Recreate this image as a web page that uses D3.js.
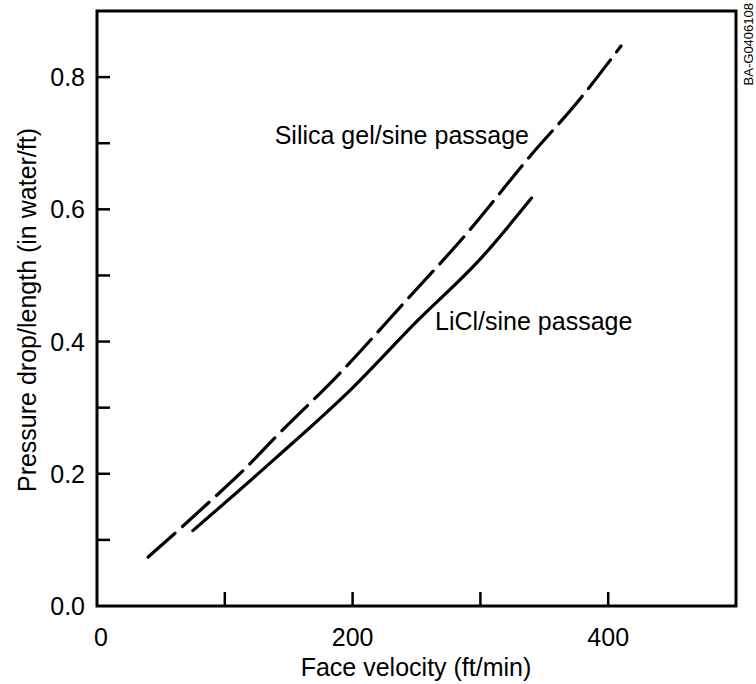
<!DOCTYPE html>
<html>
<head>
<meta charset="utf-8">
<script src="https://cdn.jsdelivr.net/npm/d3@7"></script>
<style>
  body { margin: 0; background: #fff; }
  svg text { font-family: "Liberation Sans", Arial, sans-serif; fill: #000; }
</style>
</head>
<body>
<svg id="chart" width="756" height="684"></svg>
<script>
// silica gel / sine passage (dashed)
const silicaVel = [40, 65, 90, 115, 140, 190, 240, 290, 340, 375, 410];
const silicaDp  = [0.074, 0.117, 0.161, 0.206, 0.256, 0.352, 0.458, 0.565, 0.683, 0.76, 0.847];
// LiCl / sine passage (solid)
const liclVel = [75, 140, 200, 250, 300, 340];
const liclDp  = [0.114, 0.224, 0.33, 0.43, 0.525, 0.617];

const xTicks = [100, 200, 300, 400];
const xLabels = [0, 200, 400];
const yTicks = [0.1, 0.2, 0.3, 0.4, 0.5, 0.6, 0.7, 0.8];
const yLabels = [0.0, 0.2, 0.4, 0.6, 0.8];

const svg = d3.select('#chart');
const mLeft = 97, mRight = 736, mTop = 11, mBottom = 606;

const x = d3.scaleLinear().domain([0, 500]).range([mLeft, mRight]);
const y = d3.scaleLinear().domain([0, 0.9]).range([mBottom, mTop]);

// frame
svg.append('rect')
    .attr('x', mLeft).attr('y', mTop)
    .attr('width', mRight - mLeft).attr('height', mBottom - mTop)
    .attr('fill', 'none').attr('stroke', '#000').attr('stroke-width', 3);

// inward ticks
svg.selectAll('.xt').data(xTicks).enter().append('line')
    .attr('x1', d => x(d)).attr('x2', d => x(d))
    .attr('y1', mBottom).attr('y2', mBottom - 14)
    .attr('stroke', '#000').attr('stroke-width', 2.5);
svg.selectAll('.yt').data(yTicks).enter().append('line')
    .attr('x1', mLeft).attr('x2', mLeft + 13)
    .attr('y1', d => y(d)).attr('y2', d => y(d))
    .attr('stroke', '#000').attr('stroke-width', 2.5);

// tick labels
svg.selectAll('.xl').data(xLabels).enter().append('text')
    .attr('x', d => x(d) + (d === 0 ? 4 : 0)).attr('y', mBottom + 40)
    .attr('text-anchor', 'middle').attr('font-size', 25)
    .text(d => d);
svg.selectAll('.yl').data(yLabels).enter().append('text')
    .attr('x', mLeft - 12).attr('y', d => y(d) + 9)
    .attr('text-anchor', 'end').attr('font-size', 25)
    .text(d => d.toFixed(1));

// axis titles
svg.append('text')
    .attr('x', 416).attr('y', 676)
    .attr('text-anchor', 'middle').attr('font-size', 25)
    .text('Face velocity (ft/min)');
svg.append('text')
    .attr('transform', 'translate(36,310) rotate(-90)')
    .attr('text-anchor', 'middle').attr('font-size', 25)
    .text('Pressure drop/length (in water/ft)');
svg.append('text')
    .attr('transform', 'translate(753,3) rotate(-90)')
    .attr('text-anchor', 'end').attr('font-size', 13)
    .text('BA-G0406108');

const line = d3.line()
    .x(d => x(d[0]))
    .y(d => y(d[1]))
    .curve(d3.curveMonotoneX);

svg.append('path')
    .datum(d3.zip(silicaVel, silicaDp))
    .attr('d', line)
    .attr('fill', 'none').attr('stroke', '#000').attr('stroke-width', 3.2)
    .attr('stroke-dasharray', '36,10').attr('stroke-linecap', 'round');

svg.append('path')
    .datum(d3.zip(liclVel, liclDp))
    .attr('d', line)
    .attr('fill', 'none').attr('stroke', '#000').attr('stroke-width', 3.2)
    .attr('stroke-linecap', 'round');

// curve labels
svg.append('text')
    .attr('x', 529).attr('y', 144).attr('font-size', 25)
    .attr('text-anchor', 'end')
    .text('Silica gel/sine passage');
svg.append('text')
    .attr('x', 435).attr('y', 330).attr('font-size', 25)
    .text('LiCl/sine passage');
</script>
</body>
</html>
